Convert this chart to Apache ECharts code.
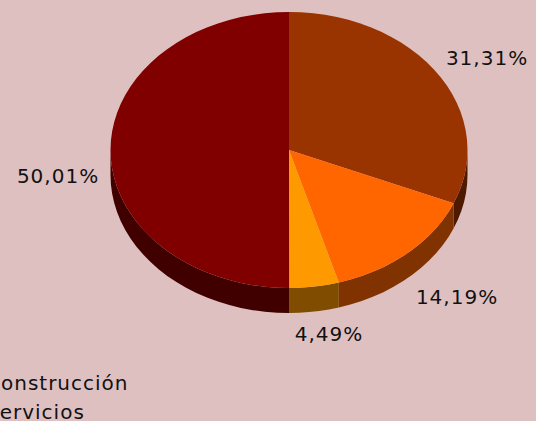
<!DOCTYPE html>
<html>
<head>
<meta charset="utf-8">
<style>
  html, body { margin: 0; padding: 0; background: #dfc0c1; overflow: hidden; }
  #chart { width: 536px; height: 421px; }
  #chart text { letter-spacing: 1px; }
</style>
<script src="https://cdn.jsdelivr.net/npm/echarts@6/dist/echarts.min.js"></script>
</head>
<body>
<div id="chart"></div>
<script>
// clockwise from 12 o'clock
const shares = [31.31, 14.19, 4.49, 50.01]
const topColors = ["#993300", "#ff6600", "#ff9900", "#800000"]
const sideColors = ["#4d1a00", "#803300", "#804d00", "#400000"]
const legendNames = ["Construcción", "Servicios"]

// label centres, same order as shares
const labelSpots = [[487, 58], [457, 297], [329, 334], [58, 176]]

const cx = 289
const cy = 150
const rx = 178.5
const ry = 138
const depth = 25
const total = shares.reduce((a, b) => a + b, 0)

function rimPoint(deg, drop) {
  const a = (deg * Math.PI) / 180
  return [cx + rx * Math.sin(a), cy - ry * Math.cos(a) + drop]
}

function arcPoints(from, to, drop) {
  const pts = []
  const steps = Math.max(1, Math.ceil((to - from) / 4))
  for (let i = 0; i <= steps; i++) {
    pts.push(rimPoint(from + ((to - from) * i) / steps, drop))
  }
  return pts
}

function renderSlice(params, api) {
  const i = params.dataIndex
  const before = shares.slice(0, i).reduce((a, b) => a + b, 0)
  const start = (before / total) * 360
  const end = start + (api.value(0) / total) * 360
  const children = []

  // only the front half of the rim shows a wall
  const wallFrom = Math.max(start, 90)
  const wallTo = Math.min(end, 270)
  if (wallTo > wallFrom) {
    const upper = arcPoints(wallFrom, wallTo, 0)
    const lower = arcPoints(wallFrom, wallTo, depth).reverse()
    children.push({
      type: "polygon",
      shape: { points: upper.concat(lower) },
      style: { fill: sideColors[i] },
    })
  }

  children.push({
    type: "polygon",
    shape: { points: [[cx, cy]].concat(arcPoints(start, end, 0)) },
    style: { fill: topColors[i] },
  })

  children.push({
    type: "text",
    x: labelSpots[i][0],
    y: labelSpots[i][1],
    style: {
      text: api.value(0).toFixed(2).replace(".", ",") + "%",
      font: "20px 'DejaVu Sans'",
      fill: "#111111",
      align: "center",
      verticalAlign: "middle",
    },
  })

  return { type: "group", children }
}

const chart = echarts.init(document.getElementById("chart"), null, { renderer: "svg" })
chart.setOption({
  backgroundColor: "#dfc0c1",
  animation: false,
  // the reference legend is cut off by the left edge, so this sits past it on purpose
  graphic: legendNames.map((name, i) => ({
    type: "text",
    left: -14,
    top: 373 + i * 29,
    style: { text: name, font: "20px 'DejaVu Sans'", fill: "#111111" },
  })),
  series: [
    {
      type: "custom",
      coordinateSystem: "none",
      data: shares.map((v) => [v]),
      renderItem: renderSlice,
    },
  ],
})

window.addEventListener("resize", () => chart.resize())
</script>
</body>
</html>
